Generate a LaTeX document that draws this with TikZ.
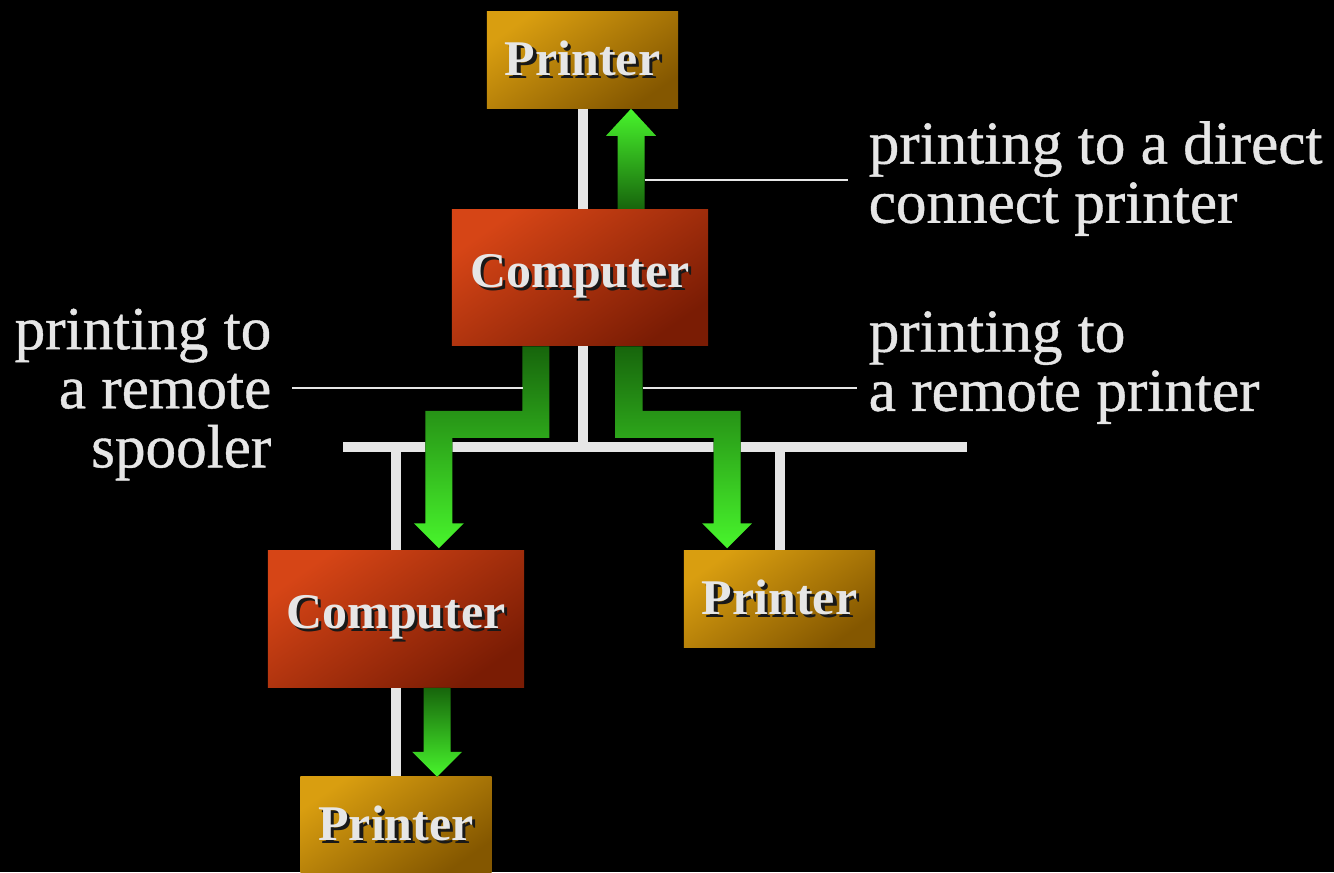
\documentclass[tikz,border=0pt]{standalone}
\usepackage{fontspec}
\setmainfont{Liberation Serif}
\newfontfamily\notefont[FakeBold=0.7]{Liberation Serif}
\usepackage{tikz}
\usetikzlibrary{calc}
\definecolor{ink}{HTML}{E6E6E6}
\definecolor{prnlight}{HTML}{D99E10}
\definecolor{prndark}{HTML}{845700}
\definecolor{cmplight}{HTML}{D64516}
\definecolor{cmpdark}{HTML}{7A1C04}
\definecolor{grndark}{HTML}{17650C}
\definecolor{grnlight}{HTML}{48F52C}
\newcommand{\boxlabel}[1]{\makebox[0pt][l]{\hspace{0.9pt}\raisebox{-0.9pt}{\textcolor{black!90}{#1}}}#1}
\tikzstyle{box}=[shape=rectangle,text=ink,inner sep=0pt,font=\fontsize{14.2}{16}\selectfont\bfseries]
\tikzstyle{printer}=[box,minimum width=1.91cm,minimum height=0.96cm,top color=prnlight,bottom color=prndark,shading angle=35]
\tikzstyle{computer}=[box,minimum width=2.56cm,minimum height=1.36cm,top color=cmplight,bottom color=cmpdark,shading angle=35]
\tikzstyle{wire}=[draw=ink,line width=0.1cm]
\tikzstyle{callout}=[draw=ink,line width=0.7pt]
\tikzstyle{downflow}=[top color=grndark,bottom color=grnlight]
\tikzstyle{upflow}=[top color=grnlight,bottom color=grndark]
\tikzstyle{note}=[text=ink,inner xsep=0.2cm,inner ysep=0pt,font=\notefont\fontsize{17.4}{16.8}\selectfont]

\begin{document}
\begin{tikzpicture}[x=0.01cm, y=-0.01cm]
            \fill[black] (0, 0) rectangle (1334, 872);
            \useasboundingbox (0, 0) rectangle (1334, 872);
            \clip (0, 0) rectangle (1334, 872);

            \node[printer] (P1) at (582.5, 60) {\boxlabel{Printer}};
            \node[computer] (C1) at (580, 277.5) {\boxlabel{Computer}};
            \node[computer] (C2) at (396, 619) {\boxlabel{Computer}};
            \node[printer] (P2) at (779.5, 599) {\boxlabel{Printer}};
            \node[printer] (P3) at (396, 825) {\boxlabel{Printer}};

            \coordinate (B) at (582.5, 447);
            \coordinate (BL) at (343, 447);
            \coordinate (BR) at (967, 447);
            \draw[wire] (BL) -- (BR);
            \draw[wire] (P1.south) -- (P1.south |- C1.north);
            \draw[wire] (C1.south -| B) -- (B);
            \draw[wire] (C2.north) -- (C2.north |- B);
            \draw[wire] (P2.north) -- (P2.north |- B);
            \draw[wire] (C2.south) -- (P3.north);

            \fill[upflow] ([xshift=0.51cm]C1.north) ++(-13.5, 0) -- ++(0, -73) -- ++(-11.5, 0)
                -- ++(25, -27) -- ++(25, 27) -- ++(-11.5, 0) -- ++(0, 73) -- cycle;
            \fill[downflow] ([xshift=-0.44cm]C1.south) ++(-13.5, 0) -- ++(27, 0) -- ++(0, 91.5)
                -- ++(-97, 0) -- ++(0, 85.5) -- ++(11.5, 0) -- ++(-25, 25) -- ++(-25, -25)
                -- ++(11.5, 0) -- ++(0, -112.5) -- ++(97, 0) -- cycle;
            \fill[downflow] ([xshift=0.49cm]C1.south) ++(-13.5, 0) -- ++(27, 0) -- ++(0, 64.5)
                -- ++(98, 0) -- ++(0, 112.5) -- ++(11.5, 0) -- ++(-25, 25) -- ++(-25, -25)
                -- ++(11.5, 0) -- ++(0, -85.5) -- ++(-98, 0) -- cycle;
            \fill[downflow] ([xshift=0.41cm]C2.south) ++(-13.5, 0) -- ++(27, 0) -- ++(0, 64)
                -- ++(11.5, 0) -- ++(-25, 25) -- ++(-25, -25) -- ++(11.5, 0) -- cycle;

            \node[note, anchor=west, align=left] (T1) at (848, 178.5) {printing to a direct\\connect printer};
            \node[note, anchor=east, align=right] (T2) at (292, 394.5) {printing to\\a remote\\spooler};
            \node[note, anchor=west, align=left] (T3) at (848, 367.5) {printing to\\a remote printer};

            \coordinate (K1) at (644.5, 180);
            \coordinate (K2) at (522.5, 388);
            \coordinate (K3) at (642.5, 388);
            \draw[callout] (K1) -- (K1 -| T1.west);
            \draw[callout] (K2) -- (K2 -| T2.east);
            \draw[callout] (K3) -- ($(K3 -| T3.west)+(9, 0)$);
        \end{tikzpicture}
\end{document}
